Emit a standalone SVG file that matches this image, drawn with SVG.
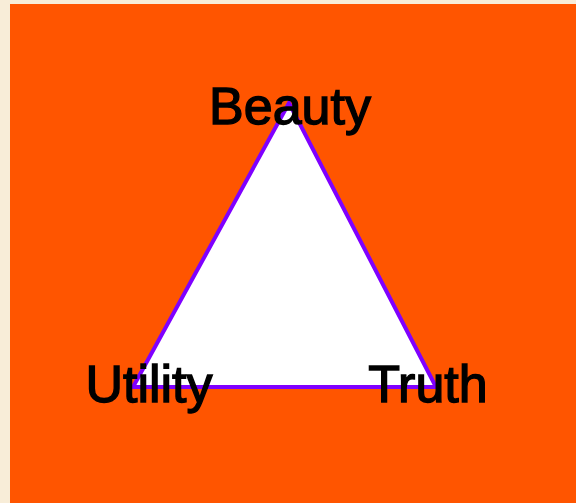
<svg xmlns="http://www.w3.org/2000/svg" width="576" height="503" viewBox="0 0 576 503">
<style>
.lbl{font-family:"Liberation Sans",Arial,sans-serif;font-size:52px;fill:#000;stroke:#000;stroke-width:1.4px;text-anchor:middle}
</style>
<rect x="0" y="0" width="576" height="503" fill="#F8EDD8"/>
<rect x="10" y="4" width="566" height="499" fill="#FF5500"/>
<g id="connectors">
<polygon points="289,103 133,387 436,387" fill="#FFFFFF" stroke="#7F00FF" stroke-width="4" stroke-linejoin="miter"/>
</g>
<g id="beauty"><text class="lbl" x="290" y="124">Beauty</text></g>
<g id="utility"><text class="lbl" x="149" y="402">Utility</text></g>
<g id="truth"><text class="lbl" x="428" y="402">Truth</text></g>
</svg>
